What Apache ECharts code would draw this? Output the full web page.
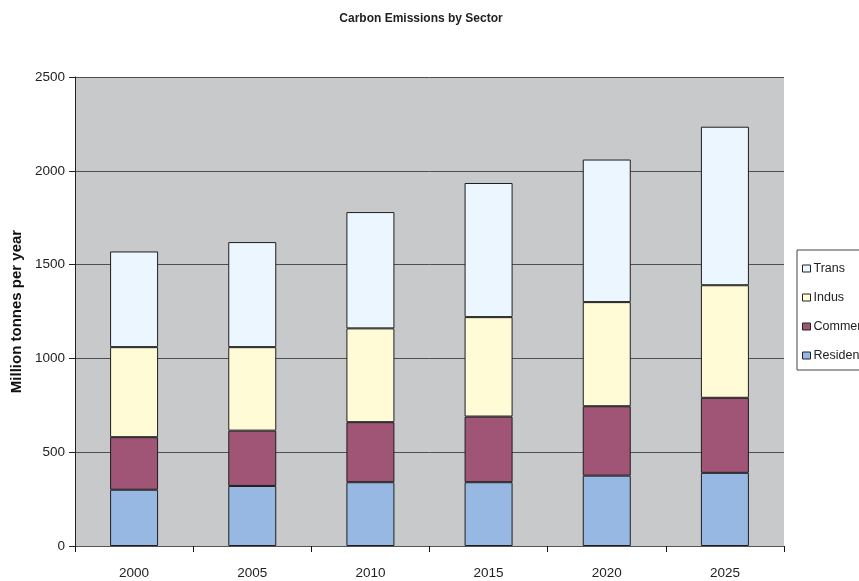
<!DOCTYPE html>
<html>
<head>
<meta charset="utf-8">
<title>Carbon Emissions by Sector</title>
<script src="https://cdn.jsdelivr.net/npm/echarts@6/dist/echarts.min.js"></script>
<style>
  html, body { margin: 0; padding: 0; background: #ffffff; }
  #chart { width: 859px; height: 581px; }
</style>
</head>
<body>
<div id="chart"></div>
<script>
// Years on the category axis
const years = ['2000', '2005', '2010', '2015', '2020', '2025'];

// Emissions per sector, million tonnes per year
const residential = [300, 320, 340, 340, 375, 390];
const commercial  = [280, 295, 320, 350, 370, 400];
const industry    = [480, 445, 500, 530, 555, 600];
const transport   = [510, 560, 620, 715, 760, 845];

// Value axis ticks
const yTicks = [0, 500, 1000, 1500, 2000, 2500];

const FONT = 'Liberation Sans, Arial, sans-serif';
const sectorColors = {
  Residential: '#97B8E2',
  Commercial: '#A05476',
  Indus: '#FFFBD6',
  Trans: '#ECF6FE'
};

function stackSeries(name, values) {
  return {
    name: name,
    type: 'bar',
    stack: 'total',
    data: values,
    barWidth: 48,
    itemStyle: {
      color: sectorColors[name],
      borderColor: '#1e1e1e',
      borderWidth: 1
    },
    emphasis: { disabled: true }
  };
}

const chart = echarts.init(document.getElementById('chart'), null, { renderer: 'canvas' });

chart.setOption({
  animation: false,
  backgroundColor: '#ffffff',
  title: {
    text: 'Carbon Emissions by Sector',
    left: 416,
    textAlign: 'center',
    top: 8,
    textStyle: { fontFamily: FONT, fontSize: 12, fontWeight: 'bold', color: '#222' }
  },
  legend: {
    orient: 'vertical',
    left: 797,
    top: 250,
    data: ['Trans', 'Indus', 'Commercial', 'Residential'],
    icon: 'rect',
    itemWidth: 8,
    itemHeight: 7,
    itemGap: 16,
    padding: [12, 8, 8, 5],
    backgroundColor: '#ffffff',
    borderColor: '#444',
    borderWidth: 1,
    itemStyle: { borderColor: '#222', borderWidth: 1 },
    textStyle: { fontFamily: FONT, fontSize: 12.5, color: '#222', padding: [0, 0, 0, -2] }
  },
  grid: {
    left: 75,
    right: 75,
    top: 77,
    bottom: 35,
    show: true,
    backgroundColor: '#C8C9CB',
    borderWidth: 0
  },
  xAxis: {
    type: 'category',
    data: years,
    axisLine: { show: true, lineStyle: { color: '#555', width: 1 } },
    axisTick: { show: true, length: 6, lineStyle: { color: '#111' } },
    axisLabel: { fontFamily: FONT, fontSize: 13.5, color: '#222', margin: 20 },
    splitLine: { show: false }
  },
  yAxis: {
    type: 'value',
    min: yTicks[0],
    max: yTicks[yTicks.length - 1],
    interval: 500,
    name: 'Million tonnes per year',
    nameLocation: 'middle',
    nameGap: 50,
    nameTextStyle: { fontFamily: FONT, fontSize: 15, fontWeight: 'bold', color: '#111' },
    axisLine: { show: true, lineStyle: { color: '#222', width: 1 } },
    axisTick: { show: true, inside: false, length: 6, lineStyle: { color: '#222' } },
    axisLabel: {
      fontFamily: FONT, fontSize: 13.5, color: '#222', margin: 10,
      formatter: function (v) { return String(v); }
    },
    splitLine: { show: true, lineStyle: { color: '#4f4f4f', width: 1 } }
  },
  series: [
    stackSeries('Residential', residential),
    stackSeries('Commercial', commercial),
    stackSeries('Indus', industry),
    stackSeries('Trans', transport)
  ]
});
</script>
</body>
</html>
